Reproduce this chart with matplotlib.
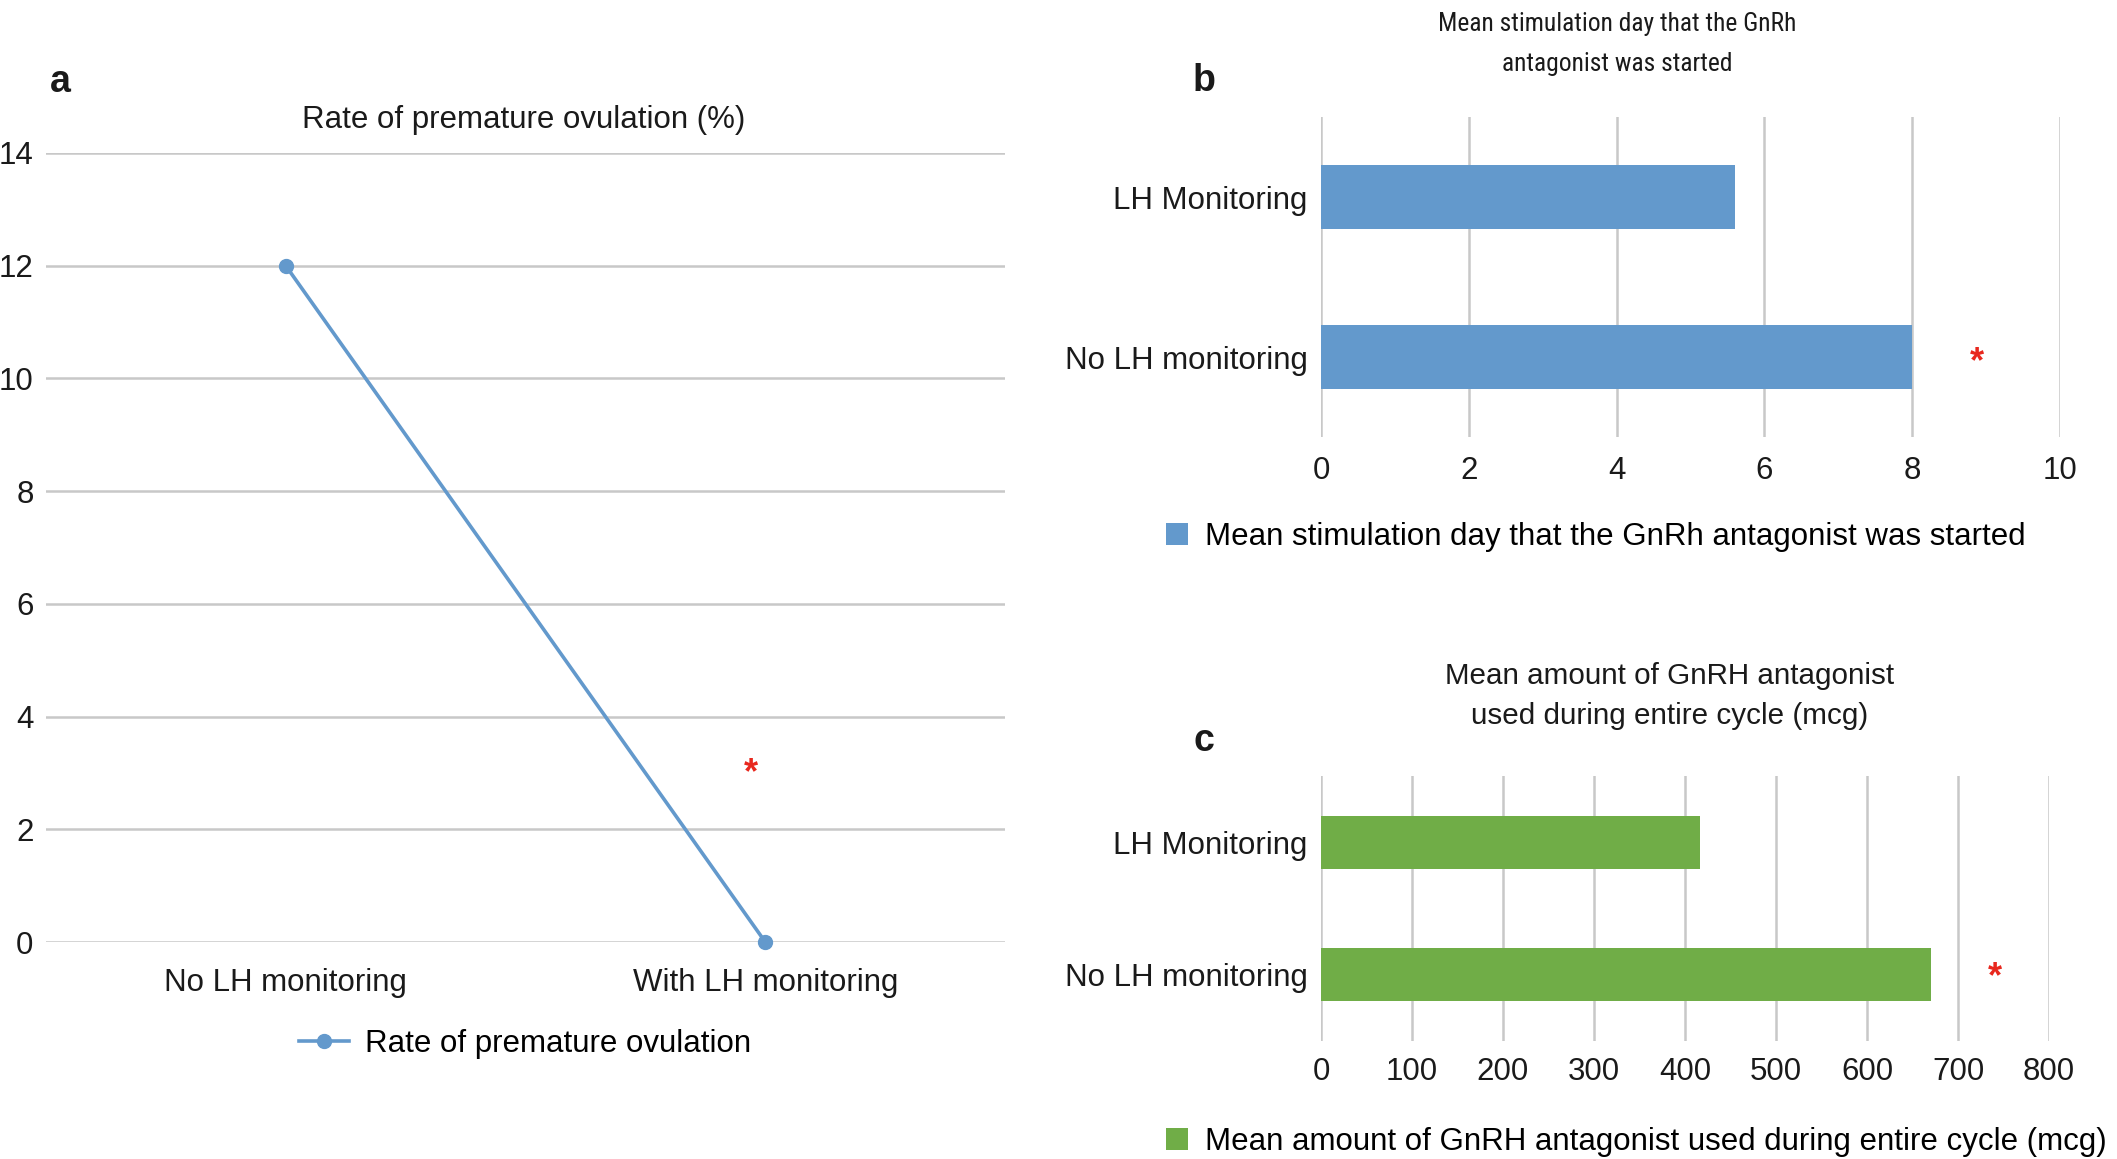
import matplotlib
matplotlib.use("Agg")
import matplotlib.pyplot as plt
from matplotlib import font_manager

# ---------------- data ----------------
cats_a = ["No LH monitoring", "With LH monitoring"]
rate_premature = [12, 0]
yticks_a = [0, 2, 4, 6, 8, 10, 12, 14]

cats_bc = ["No LH monitoring", "LH Monitoring"]
stim_day = [8.0, 5.6]
xticks_b = [0, 2, 4, 6, 8, 10]

gnrh_amount = [670, 417]
xticks_c = [0, 100, 200, 300, 400, 500, 600, 700, 800]

title_a = "Rate of premature ovulation (%)"
title_b = "Mean stimulation day that the GnRh\nantagonist was started"
title_c = "Mean amount of GnRH antagonist\nused during entire cycle (mcg)"
legend_a = "Rate of premature ovulation"
legend_b = "Mean stimulation day that the GnRh antagonist was started"
legend_c = "Mean amount of GnRH antagonist used during entire cycle (mcg)"

# ---------------- style ----------------
plt.rcParams['font.family'] = ['Liberation Sans', 'DejaVu Sans']
names = {f.name for f in font_manager.fontManager.ttflist}
narrow_kw = None
for cand in ['Liberation Sans Narrow', 'Arial Narrow', 'Roboto Condensed',
             'Open Sans Condensed']:
    if cand in names:
        narrow_kw = dict(family=[cand, 'DejaVu Sans'])
        break
if narrow_kw is None:
    narrow_kw = dict(family=['Liberation Sans', 'DejaVu Sans'])
    narrow_scale = 1.0
else:
    narrow_scale = 1.0 / 0.82 * 0.94

BLUE = '#6399CC'
GREEN = '#70AD47'
RED = '#E8281E'
GRID = '#C8C8C8'
TXT = '#1a1a1a'
FS = 22.5

W, H = 2117, 1159
fig = plt.figure(figsize=(W / 100, H / 100), dpi=100)


def px_axes(l, t, r, b):
    return fig.add_axes([l / W, 1 - b / H, (r - l) / W, (b - t) / H])


def fx(x):
    return x / W


def fy(y):
    return 1 - y / H


def clean(ax):
    for s in ax.spines.values():
        s.set_visible(False)
    ax.tick_params(length=0, colors=TXT, labelsize=FS)
    ax.set_axisbelow(True)


# ---------------- panel a ----------------
axa = px_axes(46, 153, 1005, 942)
clean(axa)
xa = list(range(len(cats_a)))
axa.plot(xa, rate_premature, color=BLUE, lw=2.6, marker='o', ms=10,
         label=legend_a, clip_on=False, zorder=3)
axa.set_xlim(-0.5, 1.5)
axa.set_ylim(0, 14)
axa.set_yticks(yticks_a)
axa.set_xticks(xa)
axa.set_xticklabels(cats_a)
axa.grid(axis='y', color=GRID, lw=1.8)
axa.grid(axis='x', visible=False)
axa.tick_params(axis='x', pad=19)
axa.tick_params(axis='y', pad=9)
axa.text(0.97, 2.98, '*', color=RED, fontsize=26, fontweight='bold',
         ha='center', va='center')
fig.text(fx(524), fy(120), title_a, ha='center', va='center', fontsize=22.5, color=TXT)
fig.text(fx(60), fy(82), 'a', ha='center', va='center', fontsize=27,
         fontweight='bold', color=TXT)
axa.legend(loc='center left', bbox_to_anchor=(fx(299), fy(1044)),
           bbox_transform=fig.transFigure, frameon=False, fontsize=FS,
           borderpad=0, borderaxespad=0, handlelength=1.6, handletextpad=0.5)

# ---------------- panel b ----------------
axb = px_axes(1321, 117, 2060, 437)
clean(axb)
yb = list(range(len(cats_bc)))
axb.barh(yb, stim_day, height=0.4, color=BLUE, label=legend_b, zorder=3)
axb.set_xlim(0, 10)
axb.set_ylim(-0.5, 1.5)
axb.set_xticks(xticks_b)
axb.set_yticks(yb)
axb.set_yticklabels(cats_bc)
axb.grid(axis='x', color=GRID, lw=1.8)
axb.grid(axis='y', visible=False)
axb.tick_params(axis='x', pad=13.5)
axb.tick_params(axis='y', pad=9.5)
axb.text(stim_day[0] + 0.88, yb[0] - 0.035, '*', color=RED, fontsize=26,
         fontweight='bold', ha='center', va='center')
fig.text(fx(1617), fy(44), title_b, ha='center', va='center',
         fontsize=16 * narrow_scale, color=TXT,
         linespacing=1.85 if narrow_scale > 1 else 2.0, **narrow_kw)
fig.text(fx(1204), fy(81), 'b', ha='center', va='center', fontsize=27,
         fontweight='bold', color=TXT)
axb.legend(loc='center left', bbox_to_anchor=(fx(1166), fy(537)),
           bbox_transform=fig.transFigure, frameon=False, fontsize=FS,
           borderpad=0, borderaxespad=0, handlelength=0.7, handleheight=0.67,
           handletextpad=0.54)

# ---------------- panel c ----------------
axc = px_axes(1321, 776, 2049, 1041)
clean(axc)
axc.barh(yb, gnrh_amount, height=0.4, color=GREEN, label=legend_c, zorder=3)
axc.set_xlim(0, 800)
axc.set_ylim(-0.5, 1.5)
axc.set_xticks(xticks_c)
axc.set_yticks(yb)
axc.set_yticklabels(cats_bc)
axc.grid(axis='x', color=GRID, lw=1.8)
axc.grid(axis='y', visible=False)
axc.tick_params(axis='x', pad=11.5)
axc.tick_params(axis='y', pad=9.5)
axc.text(gnrh_amount[0] + 71, yb[0] - 0.02, '*', color=RED, fontsize=26,
         fontweight='bold', ha='center', va='center')
fig.text(fx(1670), fy(696), title_c, ha='center', va='center', fontsize=21.3,
         color=TXT, linespacing=1.55)
fig.text(fx(1204), fy(741), 'c', ha='center', va='center', fontsize=27,
         fontweight='bold', color=TXT)
axc.legend(loc='center left', bbox_to_anchor=(fx(1166), fy(1142)),
           bbox_transform=fig.transFigure, frameon=False, fontsize=FS,
           borderpad=0, borderaxespad=0, handlelength=0.7, handleheight=0.67,
           handletextpad=0.54)

fig.savefig('out.png', dpi=100, facecolor='white')
